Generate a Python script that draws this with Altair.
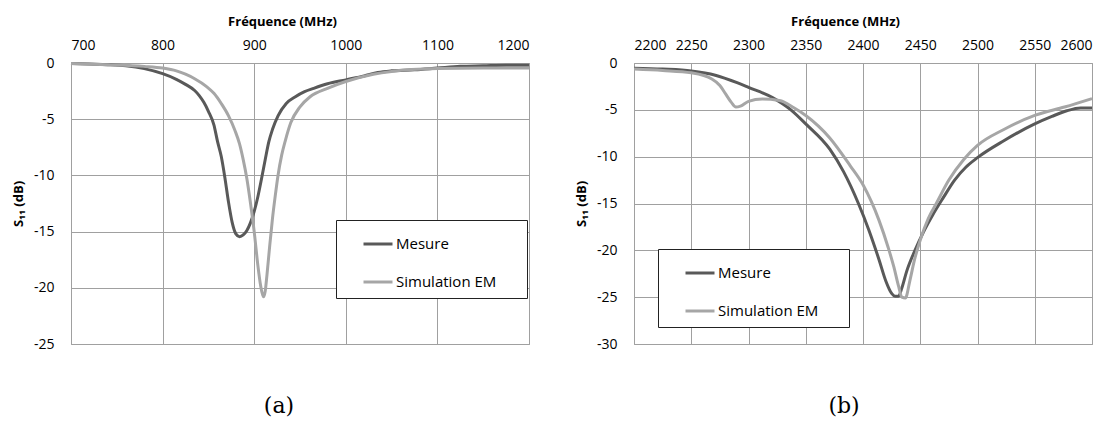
import altair as alt
import pandas as pd

series = ["Mesure", "Simulation EM"]
colors = ["#595959", "#a6a6a6"]

# Panel (a)
fa_mes = [700, 720, 740, 760, 780, 800, 815, 825, 835, 840, 845, 850, 856, 860, 864, 868, 872, 876, 880, 884,
          888, 892, 896, 900, 904, 908, 912, 916, 920, 926, 935, 945, 955, 965, 980, 1000, 1020, 1035, 1050,
          1075, 1100, 1125, 1150, 1175, 1200]
va_mes = [-0.05, -0.1, -0.15, -0.25, -0.5, -0.95, -1.45, -1.9, -2.45, -2.9, -3.5, -4.3, -5.5, -7.0, -8.3, -10.2,
          -12.4, -14.2, -15.2, -15.45, -15.3, -14.9, -14.2, -13.2, -11.9, -10.3, -8.6, -7.0, -5.9, -4.7, -3.6,
          -3.0, -2.55, -2.25, -1.85, -1.5, -1.15, -0.85, -0.7, -0.6, -0.45, -0.3, -0.25, -0.2, -0.2]
fa_sim = [700, 740, 780, 800, 815, 825, 835, 848, 856, 864, 872, 879, 884, 888, 892, 896, 900, 904, 907, 910,
          912, 914, 917, 920, 923, 926, 930, 934, 940, 950, 961, 980, 1000, 1030, 1050, 1100, 1150, 1200]
va_sim = [-0.05, -0.15, -0.3, -0.45, -0.7, -1.0, -1.4, -2.1, -2.7, -3.6, -4.7, -6.0, -7.2, -8.6, -10.3, -12.5,
          -15.0, -18.0, -19.8, -20.8, -20.3, -18.8, -16.2, -13.8, -11.8, -10.0, -8.2, -6.9, -5.3, -3.9, -3.0,
          -2.25, -1.65, -1.0, -0.75, -0.5, -0.45, -0.45]

# Panel (b)
fb_mes = [2200, 2225, 2250, 2271, 2290, 2300, 2321, 2337, 2350, 2371, 2383, 2396, 2405, 2414, 2420, 2425, 2428,
          2431, 2434, 2438, 2445, 2453, 2461, 2470, 2480, 2490, 2500, 2523, 2550, 2565, 2578, 2590, 2600]
vb_mes = [-0.55, -0.65, -0.85, -1.3, -2.1, -2.6, -3.7, -5.0, -6.5, -9.2, -11.6, -15.0, -17.8, -21.0, -23.3,
          -24.6, -24.9, -24.9, -24.0, -22.3, -20.1, -18.0, -16.2, -14.4, -12.5, -11.1, -10.1, -8.3, -6.5, -5.7,
          -5.1, -4.8, -4.8]
fb_sim = [2200, 2225, 2250, 2268, 2275, 2280, 2285, 2289, 2293, 2300, 2312, 2327, 2340, 2350, 2371, 2389, 2400,
          2414, 2422, 2427, 2431, 2434, 2437, 2441, 2445, 2450, 2457, 2464, 2475, 2488, 2500, 2523, 2550, 2576, 2600]
vb_sim = [-0.65, -0.8, -1.05, -1.7, -2.4, -3.3, -4.2, -4.7, -4.6, -4.1, -3.85, -4.0, -4.8, -5.6, -8.0, -11.0,
          -13.0, -16.8, -19.7, -21.8, -23.8, -25.0, -25.1, -23.2, -21.0, -18.9, -16.6, -15.0, -12.5, -10.3, -8.8,
          -7.1, -5.6, -4.7, -3.8]

xa_ticks = [700, 800, 900, 1000, 1100, 1200]
ya_ticks = [0, -5, -10, -15, -20, -25]
xb_ticks = [2200, 2250, 2300, 2350, 2400, 2450, 2500, 2550, 2600]
yb_ticks = [0, -5, -10, -15, -20, -25, -30]

PAD = "\u2800" * 2


def frame(f1, v1, f2, v2):
    return pd.concat([
        pd.DataFrame({"f": f1, "v": v1, "serie": series[0]}),
        pd.DataFrame({"f": f2, "v": v2, "serie": series[1]}),
    ])


def panel(df, xdom, xvals, ydom, yvals, lx, ly, caption, cap_dx, w, h):
    return alt.Chart(df).mark_line(strokeWidth=3, interpolate="monotone").encode(
        x=alt.X("f:Q", scale=alt.Scale(domain=xdom, nice=False, zero=False),
                axis=alt.Axis(orient="top", values=xvals, title="Fréquence (MHz)",
                              titleX=w / 2 - 18, labelExpr="'' + datum.value")),
        y=alt.Y("v:Q", scale=alt.Scale(domain=ydom, nice=False, zero=False),
                axis=alt.Axis(values=yvals, title="S₁₁ (dB)", labelExpr="'' + datum.value")),
        color=alt.Color("serie:N", scale=alt.Scale(domain=series, range=colors),
                        legend=alt.Legend(title=None, orient="none", legendX=lx, legendY=ly,
                                          strokeColor="#222222", fillColor="#ffffff", padding=8,
                                          symbolType="stroke", symbolStrokeWidth=3, symbolSize=841,
                                          symbolOffset=18, labelOffset=2, rowPadding=14,
                                          labelLimit=400,
                                          labelFont="Open Sans", labelFontSize=15, labelColor="#000000",
                                          labelExpr="datum.label + '" + PAD + "'")),
        order=alt.Order("f:Q"),
    ).properties(
        width=w, height=h,
        title=alt.TitleParams(caption, orient="bottom", font="DejaVu Serif", fontSize=22,
                              fontWeight="normal", color="#000000", anchor="middle", dx=cap_dx,
                              offset=45, frame="group"),
    )


pa = panel(frame(fa_mes, va_mes, fa_sim, va_sim), [700, 1200], xa_ticks, [-25, 0], ya_ticks,
           265, 157, "(a)", -21, 458, 281)
pb = panel(frame(fb_mes, vb_mes, fb_sim, vb_sim), [2200, 2600], xb_ticks, [-30, 0], yb_ticks,
           24, 186, "(b)", -19, 458, 281)

chart = alt.hconcat(pa, pb, spacing=38).resolve_scale(color="independent").resolve_legend(
    color="independent"
).properties(
    padding={"left": 3, "top": 6, "right": 5, "bottom": 0}
).configure_view(
    stroke="#999999", strokeWidth=1
).configure_axis(
    grid=True, gridColor="#a0a0a0", gridWidth=1, domain=False, ticks=False,
    labelFont="Open Sans", labelFontSize=14, labelColor="#000000", labelPadding=9,
    titleFont="Open Sans", titleFontSize=13, titleFontWeight="bold", titleColor="#000000",
    titlePadding=6
).configure_axisX(
    labelPadding=11, titlePadding=10
).configure_axisY(
    labelPadding=17, titlePadding=8
)

chart.save("out.html", embed_options={"renderer": "svg", "actions": False})
